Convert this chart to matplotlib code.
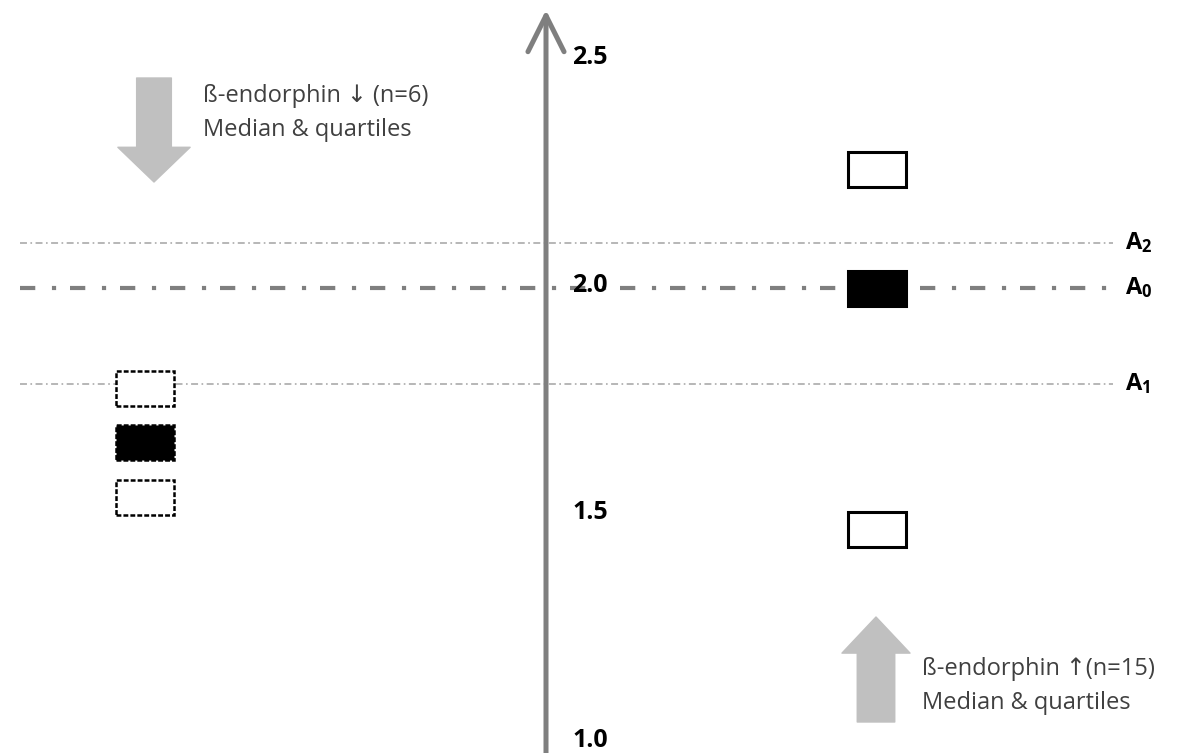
import matplotlib.pyplot as plt
from matplotlib.patches import Rectangle, FancyArrowPatch

plt.rcParams['font.family'] = ['Open Sans', 'DejaVu Sans']
plt.rcParams['lines.scale_dashes'] = False
plt.rcParams['mathtext.fontset'] = 'custom'
plt.rcParams['mathtext.rm'] = 'Open Sans'
plt.rcParams['mathtext.bf'] = 'Open Sans:bold'
plt.rcParams['mathtext.default'] = 'bf'

# values
tick_values = [1.0, 1.5, 2.0, 2.5]
tick_labels = ['1.0', '1.5', '2.0', '2.5']
ref_names = ['A$_2$', 'A$_0$', 'A$_1$']
ref_values = [2.10, 2.0, 1.79]
down_values = [1.78, 1.66, 1.54]      # q3, median, q1 (n=6)
up_values = [2.26, 2.0, 1.47]         # q3, median, q1 (n=15)
down_label = 'ß-endorphin \u2193 (n=6)\nMedian & quartiles'
up_label = 'ß-endorphin \u2191(n=15)\nMedian & quartiles'

fig = plt.figure(figsize=(11.97, 7.53), dpi=100)
ax = fig.add_axes([0, 0, 1, 1])
ax.set_xlim(0, 1197)
ax.set_ylim(0.978, 2.633)
ax.axis('off')

unit = 455.0  # pixels per unit on the value scale
box_w, box_h = 58, 35 / unit

# reference lines
styles = [dict(color='#aaaaaa', lw=1.2, dashes=(5, 2.5, 1.2, 2.5)),
          dict(color='#7f7f7f', lw=3, dashes=(11, 12, 3, 10)),
          dict(color='#aaaaaa', lw=1.2, dashes=(5, 2.5, 1.2, 2.5))]
for name, v, st in zip(ref_names, ref_values, styles):
    ax.plot([20, 1113], [v, v], **st)
    ax.text(1125, v, name, fontsize=17, fontweight='bold', va='center')

# main axis arrow
ax.add_patch(FancyArrowPatch((546, 0.978), (546, 2.611),
                             arrowstyle='->,head_length=1.3,head_width=0.65',
                             mutation_scale=20, color='#7f7f7f', lw=3.6,
                             shrinkA=0, shrinkB=0, zorder=3))
for v, lab in zip(tick_values, tick_labels):
    ax.annotate(lab, (572, v), xytext=(0, 2), textcoords='offset points',
                fontsize=18, fontweight='bold', va='center', ha='left')

# boxes: median filled, quartiles open
for i, v in enumerate(down_values):
    ax.add_patch(Rectangle((145 - box_w / 2, v - box_h / 2), box_w, box_h,
                           facecolor='black' if i == 1 else 'white',
                           edgecolor='black', lw=1.8, linestyle=(0, (3.5, 1.5)),
                           zorder=4))
for i, v in enumerate(up_values):
    ax.add_patch(Rectangle((877 - box_w / 2, v - box_h / 2), box_w, box_h,
                           facecolor='black' if i == 1 else 'white',
                           edgecolor='black', lw=2.2, zorder=4))

# big grey arrows
grey = '#c0c0c0'
ax.add_patch(FancyArrowPatch((154, 2 + (288 - 78) / unit), (154, 2 + (288 - 182) / unit),
                             arrowstyle='simple,head_length=25,head_width=52,tail_width=25',
                             mutation_scale=1, color=grey, shrinkA=0, shrinkB=0))
ax.add_patch(FancyArrowPatch((876, 2 + (288 - 722) / unit), (876, 2 + (288 - 617) / unit),
                             arrowstyle='simple,head_length=26,head_width=49,tail_width=27',
                             mutation_scale=1, color=grey, shrinkA=0, shrinkB=0))

ax.text(203, 2 + (288 - 113) / unit, down_label, fontsize=17, color='#404040',
        va='center', linespacing=1.6)
ax.text(922, 2 + (288 - 686) / unit, up_label, fontsize=17, color='#404040',
        va='center', linespacing=1.6)

fig.savefig('out.png', dpi=100)
